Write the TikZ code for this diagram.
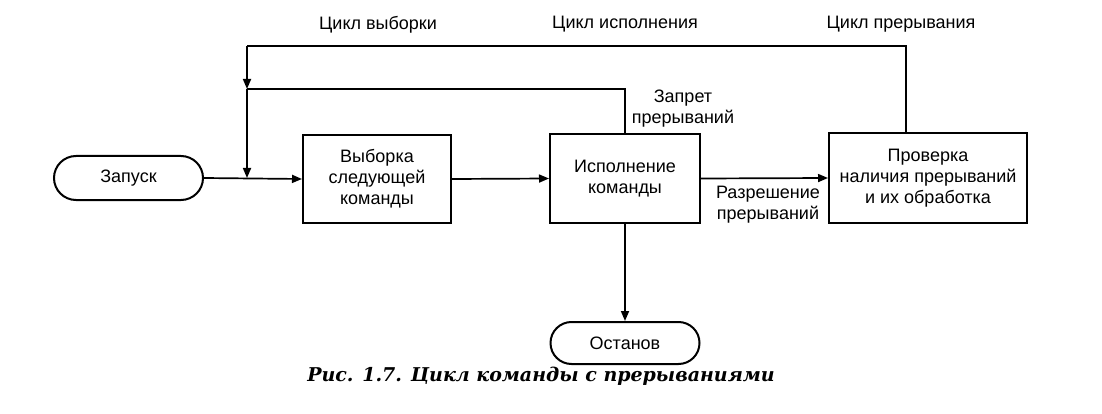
\documentclass[tikz,border=0pt]{standalone}
\usepackage{fontspec}
\setmainfont{Liberation Sans}
\newfontfamily\capfont{DejaVu Serif}
\usetikzlibrary{arrows.meta,shapes.misc}
\newcommand{\lblfont}{\fontsize{18}{21}\selectfont}
\tikzset{
  box/.style={draw, line width=2pt, fill=white, inner sep=0pt, align=center, font=\lblfont},
  term/.style={draw, rounded rectangle, line width=2pt, inner sep=0pt, font=\lblfont},
  lbl/.style={inner sep=0pt, align=center, font=\lblfont},
  conn/.style={line width=1.7pt},
  arr/.style={conn, -{Triangle[length=10pt,width=8pt]}},
}
\begin{document}
\begin{tikzpicture}[x=1pt,y=-1pt]
\useasboundingbox (0,0) rectangle (1102,414);
\node[term, minimum width=149pt, minimum height=44pt] (zap) at (128.5,178) {Запуск};
\node[box, minimum width=148pt, minimum height=88pt] (vyb) at (377,179) {Выборка\\следующей\\команды};
\node[box, minimum width=150pt, minimum height=89pt] (isp) at (625,178.5) {Исполнение\\команды};
\node[box, minimum width=198pt, minimum height=90pt] (pro) at (928,178) {Проверка\\наличия прерываний\\и их обработка};
\node[term, minimum width=149pt, minimum height=42pt] (ost) at (625,343) {Останов};

\coordinate (jtop) at (247,46);
\coordinate (j1) at (247,89);
\coordinate (j2) at (247,178);
\coordinate (ptop) at (906,46);
\coordinate (pbot) at (906,133);
\coordinate (itop) at (625,89);

\draw[arr] (zap.east) -- (vyb.west);
\draw[arr] (vyb.east) -- (isp.west);
\draw[arr] (isp.east) -- (pro.west);
\draw[arr] (isp.south) -- (ost.north);
\draw[conn] (pbot) -- (ptop) -- (jtop);
\draw[arr] (jtop) -- (j1);
\draw[conn] (isp.north) -- (itop) -- (j1);
\draw[arr] (j1) -- (j2);

\node[lbl] (lv) at (378,25) {Цикл выборки};
\node[lbl] (li) at (625,24) {Цикл исполнения};
\node[lbl] (lp) at (901,24) {Цикл прерывания};
\node[lbl] (lz) at (683,109) {Запрет\\прерываний};
\node[lbl] (lr) at (768,205) {Разрешение\\прерываний};
\node[inner sep=0pt, font=\capfont\bfseries\itshape\fontsize{19}{22}\selectfont] (cap) at (541,376) {Рис. 1.7. Цикл команды с прерываниями};
\end{tikzpicture}
\end{document}
